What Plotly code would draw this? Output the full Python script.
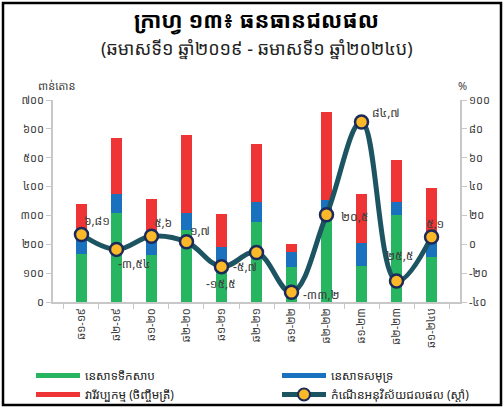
import plotly.graph_objects as go

categories = ["ឆ១-១៩", "ឆ២-១៩", "ឆ១-២០", "ឆ២-២០", "ឆ១-២១", "ឆ២-២១",
              "ឆ១-២២", "ឆ២-២២", "ឆ១-២៣", "ឆ២-២៣", "ឆ១-២៤ប"]
freshwater = [167, 309, 164, 250, 137, 277, 120, 318, 126, 300, 157]
marine = [76, 66, 58, 59, 54, 68, 55, 36, 77, 48, 70]
aquaculture = [96, 195, 135, 271, 114, 203, 27, 304, 172, 143, 168]
growth = [6.81, -3.54, 5.6, 1.7, -15.5, -5.7, -33.2, 20.5, 84.7, -25.5, 5.1]
growth_labels = ["៦,៨១", "-៣,៥៤", "៥,៦", "១,៧", "-១៥,៥", "-៥,៧",
                 "-៣៣,២", "២០,៥", "៨៤,៧", "២៥,៥", "៥,១"]
left_ticks = [0, 100, 200, 300, 400, 500, 600, 700]
left_ticktext = ["០", "១០០", "២០០", "៣០០", "៤០០", "៥០០", "៦០០", "៧០០"]
right_ticks = [-40, -20, 0, 20, 40, 60, 80, 100]
right_ticktext = ["-៤០", "-២០", "០", "២០", "៤០", "៦០", "៨០", "១០០"]
series_names = ["នេសាទទឹកសាប", "នេសាទសមុទ្រ", "វារីវប្បកម្ម (ចិញ្ចឹមត្រី)",
                "កំណើនអនុវិស័យជលផល (ស្តាំ)"]
title_text = "ក្រាហ្វ ១៣៖ ធនធានជលផល"
subtitle_text = "(ឆមាសទី១ ឆ្នាំ២០១៩ - ឆមាសទី១ ឆ្នាំ២០២៤ប)"
left_title = "ពាន់តោន"
right_title = "%"

FONT = "Noto Sans Khmer, Khmer OS, Khmer OS System, DejaVu Sans, sans-serif"
GREEN, BLUE, RED = "#27b562", "#1a72bf", "#ee3434"
LINE = "#1d5461"

# plot area in pixels
L, R, T, B = 53, 460, 100, 302
PW, PH = R - L, B - T


def px(xp):
    return (xp - L) / PW


def py(yp):
    return (B - yp) / PH


fig = go.Figure()
for vals, col in [(freshwater, GREEN), (marine, BLUE), (aquaculture, RED)]:
    fig.add_trace(go.Bar(x=categories, y=vals, marker=dict(color=col, line=dict(width=0)),
                         showlegend=False, yaxis="y"))

fig.add_trace(go.Scatter(x=categories, y=growth, yaxis="y2", mode="lines+markers",
                         line=dict(color=LINE, width=5, shape="spline", smoothing=1.1),
                         marker=dict(size=13, color="#fbb829", line=dict(color="#1c2a5a", width=2.5)),
                         showlegend=False))

# legend entries (two columns = two legends)
legend_cols = ["legend", "legend2", "legend", "legend2"]
for name, col, lg in zip(series_names[:3], [GREEN, BLUE, RED], legend_cols[:3]):
    fig.add_trace(go.Scatter(x=[None], y=[None], mode="lines", name=name, legend=lg,
                             line=dict(color=col, width=8)))
fig.add_trace(go.Scatter(x=[None], y=[None], mode="lines+markers", name=series_names[3],
                         legend=legend_cols[3], line=dict(color=LINE, width=4),
                         marker=dict(size=10, color="#fbb829", line=dict(color="#1c2a5a", width=2.5))))

# data labels
offsets = [(16, 14), (18, -14), (12, 14), (14, 11), (0, -17), (-12, -14),
           (30, -2), (28, -2), (24, 10), (3, 26), (3, 13)]
for c, v, t, (dx, dy) in zip(categories, growth, growth_labels, offsets):
    fig.add_annotation(x=c, y=v, xref="x", yref="y2", text=t, showarrow=False,
                       xshift=dx, yshift=dy, font=dict(size=12, color="#404040", family=FONT))

fig.add_annotation(xref="paper", yref="paper", x=0.5, y=py(19), text="<b>" + title_text + "</b>",
                   showarrow=False, font=dict(size=22, color="#000000", family=FONT), yanchor="middle")
fig.add_annotation(xref="paper", yref="paper", x=0.5, y=py(48), text=subtitle_text,
                   showarrow=False, font=dict(size=18, color="#222222", family=FONT), yanchor="middle")
fig.add_annotation(xref="paper", yref="paper", x=px(36), y=py(86), text=left_title,
                   showarrow=False, font=dict(size=11, color="#404040", family=FONT), yanchor="middle")
fig.add_annotation(xref="paper", yref="paper", x=px(469), y=py(86), text=right_title,
                   showarrow=False, font=dict(size=11, color="#404040", family=FONT), yanchor="middle")

# outer frame
fig.add_shape(type="rect", xref="paper", yref="paper",
              x0=px(3), x1=px(501), y0=py(405), y1=py(3),
              line=dict(color="#000000", width=2.5), fillcolor="rgba(0,0,0,0)", layer="above")

legend_style = dict(orientation="v", xanchor="left", yanchor="top", itemwidth=44,
                    traceorder="normal", tracegroupgap=0, itemsizing="constant",
                    font=dict(size=12, color="#222222", family=FONT), bgcolor="rgba(0,0,0,0)")

fig.update_layout(
    width=504, height=409,
    margin=dict(l=L, r=504 - R, t=T, b=409 - B, autoexpand=False),
    paper_bgcolor="white", plot_bgcolor="white",
    barmode="stack", bargap=0.68,
    font=dict(family=FONT, color="#404040", size=11),
    xaxis=dict(type="category", tickangle=-90, showline=True, linecolor="#c8c8c8", linewidth=1.5,
               ticks="outside", tickson="boundaries", ticklen=5, tickcolor="#c8c8c8",
               showgrid=False, tickfont=dict(size=11, color="#404040")),
    yaxis=dict(range=[0, 700], tickvals=left_ticks, ticktext=left_ticktext, showgrid=False,
               showline=True, linecolor="#c8c8c8", linewidth=1.5, ticks="outside", ticklen=5,
               tickcolor="#c8c8c8", zeroline=False, tickfont=dict(size=11, color="#404040")),
    yaxis2=dict(range=[-40, 100], tickvals=right_ticks, ticktext=right_ticktext, overlaying="y",
                side="right", showgrid=False, showline=True, linecolor="#c8c8c8", linewidth=1.5,
                ticks="outside", ticklen=5, tickcolor="#c8c8c8", zeroline=False,
                tickfont=dict(size=11, color="#404040")),
    legend=dict(x=px(31), y=py(361), **legend_style),
    legend2=dict(x=px(277), y=py(361), **legend_style),
)

fig.write_html("out.html", config={"displayModeBar": False},
               post_script="document.body.style.margin='0';")
